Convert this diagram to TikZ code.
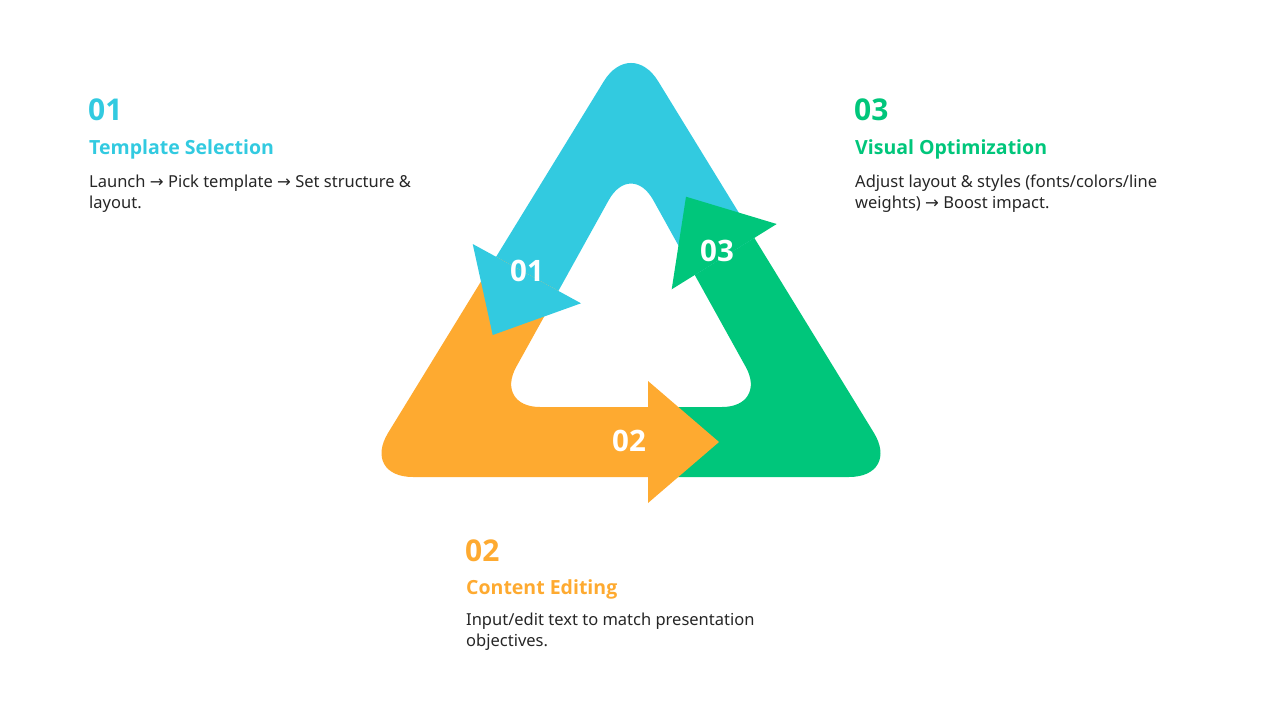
\documentclass[tikz,border=0pt]{standalone}
\usepackage{fontspec}
\setmainfont{Noto Sans}
\newfontfamily\boldfont{Open Sans}[UprightFont=*-Bold]
\newfontfamily\arrfont{DejaVu Sans}
\definecolor{cblue}{HTML}{32CAE0}
\definecolor{corange}{HTML}{FEAA30}
\definecolor{cgreen}{HTML}{00C67B}
\definecolor{ctext}{HTML}{262626}
\newcommand{\ar}{{\arrfont →}}
\tikzset{
  numw/.style={text=white,font=\fontsize{29.5}{36}\boldfont,inner sep=0pt},
  bignum/.style={anchor=base west,inner sep=0pt,font=\fontsize{30}{36}\boldfont},
  ttl/.style={anchor=base west,inner sep=0pt,font=\fontsize{19.5}{24}\boldfont},
  body/.style={anchor=base west,inner sep=0pt,text=ctext,font=\fontsize{16.5}{21}\selectfont}
}
\begin{document}
\begin{tikzpicture}[x=1pt,y=-1pt]
\useasboundingbox (0,0) rectangle (1280,720);
% blue segment
\begin{scope}
\clip (300,149.4) -- (617.2,323.2) -- (960,110) -- (960,0) -- (300,0) -- cycle;
\fill[cblue,even odd rule] (631,477) [rounded corners=52pt] -- (901,477) -- (631,37) -- (361,477) -- cycle
  (631,407) [rounded corners=46pt] -- (768,407) -- (631,160) -- (494,407) -- cycle;
\end{scope}
% orange segment
\begin{scope}
\clip (300,149.4) -- (648,340.1) -- (648,520) -- (300,520) -- cycle;
\fill[corange,even odd rule] (631,477) [rounded corners=52pt] -- (901,477) -- (631,37) -- (361,477) -- cycle
  (631,407) [rounded corners=46pt] -- (768,407) -- (631,160) -- (494,407) -- cycle;
\end{scope}
% green segment
\begin{scope}
\clip (648,304) -- (960,110) -- (960,520) -- (648,520) -- cycle;
\fill[cgreen,even odd rule] (631,477) [rounded corners=52pt] -- (901,477) -- (631,37) -- (361,477) -- cycle
  (631,407) [rounded corners=46pt] -- (768,407) -- (631,160) -- (494,407) -- cycle;
\end{scope}
% arrowheads
\fill[cblue] (472.7,244) -- (581,303.3) -- (492.7,335) -- cycle;
\fill[corange] (648,381) -- (719,442) -- (648,503) -- cycle;
\fill[cgreen] (776.7,224) -- (671.7,289.3) -- (686,196.7) -- cycle;
% numbers on arrows
\node[numw] (a1) at (527,271) {01};
\node[numw] (a2) at (629,441) {02};
\node[numw] (a3) at (717,251) {03};
% left text
\node[bignum,text=cblue] (n1) at (88,120.5) {01};
\node[ttl,text=cblue] (t1) at (89,154.5) {Template Selection};
\node[body] (b1a) at (89,187) {Launch \ar{} Pick template \ar{} Set structure \&};
\node[body] (b1b) at (89,208) {layout.};
% right text
\node[bignum,text=cgreen] (n3) at (854,120.5) {03};
\node[ttl,text=cgreen] (t3) at (855,154.5) {Visual Optimization};
\node[body] (b3a) at (855,187) {Adjust layout \& styles (fonts/colors/line};
\node[body] (b3b) at (855,208) {weights) \ar{} Boost impact.};
% bottom text
\node[bignum,text=corange] (n2) at (465,561.5) {02};
\node[ttl,text=corange] (t2) at (466,594.5) {Content Editing};
\node[body] (b2a) at (466,625) {Input/edit text to match presentation};
\node[body] (b2b) at (466,646) {objectives.};
\end{tikzpicture}
\end{document}
